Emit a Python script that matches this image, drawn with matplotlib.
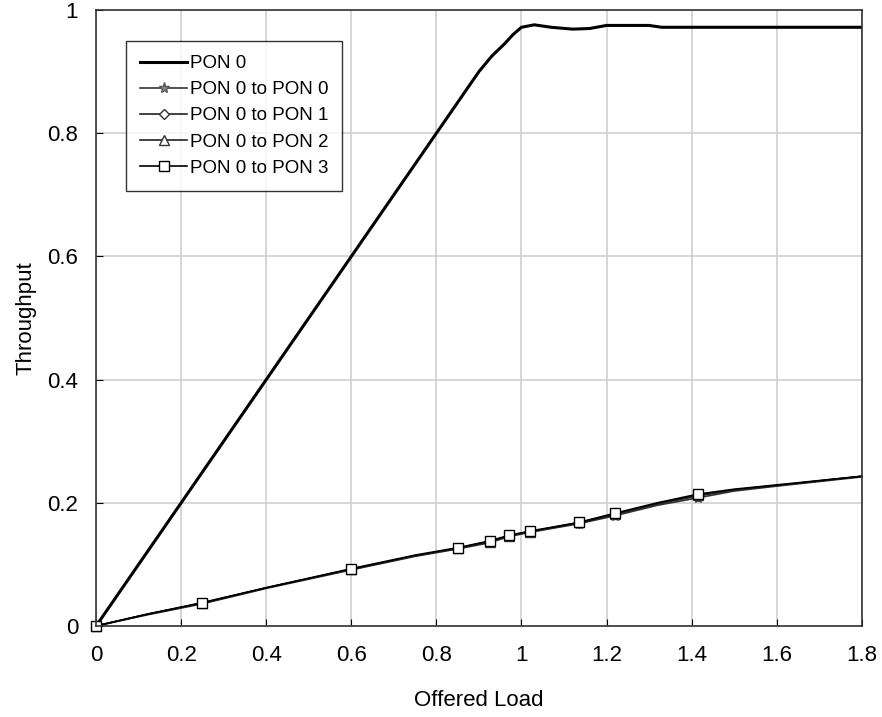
import matplotlib.pyplot as plt

plt.rcParams['font.family'] = ['Liberation Sans', 'DejaVu Sans']

# PON 0 throughput
pon0_load = [0, 0.1, 0.2, 0.3, 0.4, 0.5, 0.6, 0.7, 0.8, 0.85, 0.9, 0.93, 0.96, 0.98,
             1.0, 1.03, 1.07, 1.12, 1.16, 1.2, 1.25, 1.3, 1.33, 1.4, 1.5, 1.6, 1.7, 1.8]
pon0_thr = [0, 0.1, 0.2, 0.3, 0.4, 0.5, 0.6, 0.7, 0.8, 0.85, 0.9, 0.925, 0.945, 0.96,
            0.972, 0.976, 0.972, 0.969, 0.97, 0.975, 0.975, 0.975, 0.972, 0.972, 0.972, 0.972, 0.972, 0.972]

# PON 0 to PON x
load = [0, 0.12, 0.25, 0.4, 0.6, 0.75, 0.85, 0.925, 0.97, 1.02, 1.135, 1.22, 1.32, 1.415, 1.5, 1.6, 1.8]
to_pon0 = [0, 0.018, 0.036, 0.061, 0.091, 0.113, 0.125, 0.135, 0.145, 0.152, 0.166, 0.179, 0.196, 0.208, 0.219, 0.227, 0.242]
to_pon1 = [0, 0.019, 0.037, 0.062, 0.092, 0.114, 0.126, 0.137, 0.146, 0.153, 0.167, 0.181, 0.198, 0.211, 0.221, 0.228, 0.243]
to_pon2 = [0, 0.019, 0.037, 0.062, 0.092, 0.114, 0.126, 0.137, 0.146, 0.153, 0.168, 0.182, 0.199, 0.212, 0.221, 0.228, 0.243]
to_pon3 = [0, 0.019, 0.038, 0.062, 0.093, 0.115, 0.127, 0.138, 0.147, 0.154, 0.168, 0.183, 0.2, 0.214, 0.222, 0.229, 0.243]
mark_idx = [0, 2, 4, 6, 7, 8, 9, 10, 11, 13]

fig = plt.figure(figsize=(8.82, 7.17), dpi=100)
ax = fig.add_axes([0.109, 0.127, 0.868, 0.859])

ax.plot(pon0_load, pon0_thr, color='black', lw=2.2, label='PON 0')
ax.plot(load, to_pon0, color='#333333', lw=1.2, marker='*', ms=8, mfc='#888888', mec='#555555',
        markevery=mark_idx, clip_on=False, label='PON 0 to PON 0')
ax.plot(load, to_pon1, color='#222222', lw=1.2, marker='D', ms=5, mfc='white', mec='#333333',
        markevery=mark_idx, clip_on=False, label='PON 0 to PON 1')
ax.plot(load, to_pon2, color='#222222', lw=1.2, marker='^', ms=7, mfc='white', mec='#333333',
        markevery=mark_idx, clip_on=False, label='PON 0 to PON 2')
ax.plot(load, to_pon3, color='black', lw=1.2, marker='s', ms=7, mfc='white', mec='black',
        markevery=mark_idx, clip_on=False, label='PON 0 to PON 3')

ax.set_xlim(0, 1.8)
ax.set_ylim(0, 1)
ax.set_xticks([0, 0.2, 0.4, 0.6, 0.8, 1, 1.2, 1.4, 1.6, 1.8])
ax.set_xticklabels(['0', '0.2', '0.4', '0.6', '0.8', '1', '1.2', '1.4', '1.6', '1.8'])
ax.set_yticks([0, 0.2, 0.4, 0.6, 0.8, 1])
ax.set_yticklabels(['0', '0.2', '0.4', '0.6', '0.8', '1'])
ax.grid(True, color='#d0d0d0', lw=1.2)
ax.set_axisbelow(True)
ax.tick_params(labelsize=16, direction='in', length=5, color='black')
ax.tick_params(axis='x', pad=14)
ax.tick_params(axis='y', pad=13)
for s in ax.spines.values():
    s.set_color('#333333')
    s.set_linewidth(1.2)

ax.set_xlabel('Offered Load', fontsize=16, labelpad=17)
ax.set_ylabel('Throughput', fontsize=16, labelpad=8)

leg = ax.legend(loc='upper left', bbox_to_anchor=(0.027, 0.965), fontsize=13.5, frameon=True,
                fancybox=False, edgecolor='black', handlelength=2.5, handletextpad=0.15,
                labelspacing=0.48, borderpad=0.75)
leg.get_frame().set_linewidth(1.0)

fig.savefig('out.png', dpi=100)
